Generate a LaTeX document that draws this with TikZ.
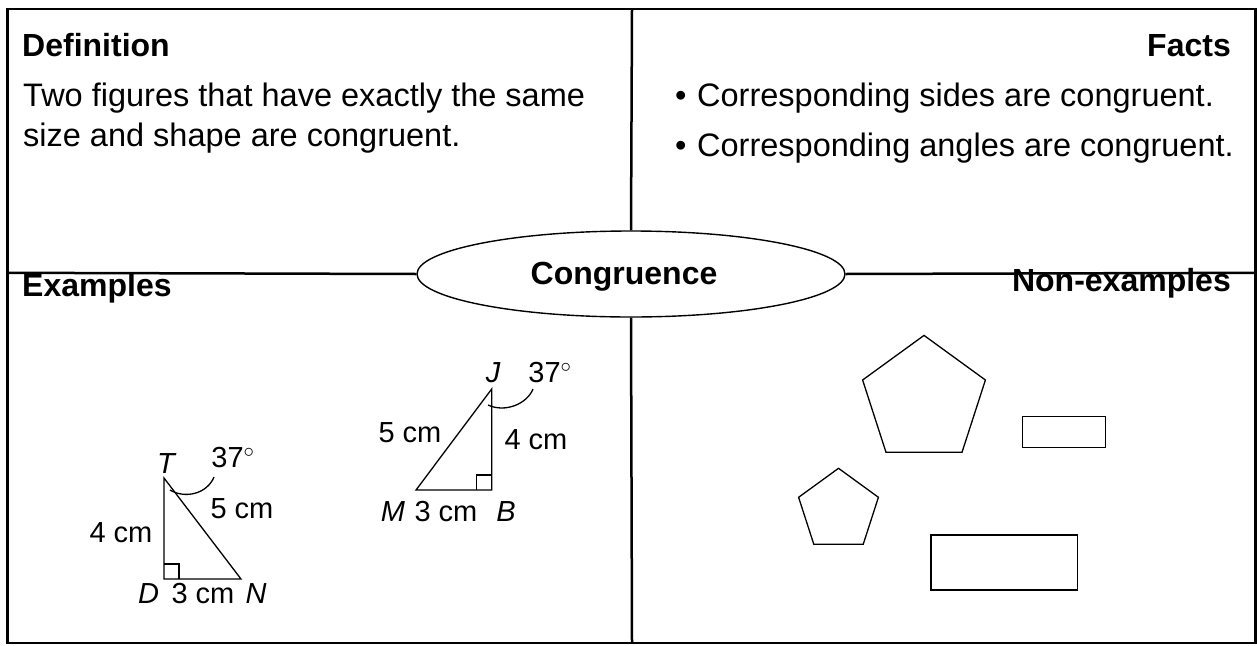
\documentclass[tikz,border=0pt]{standalone}
\usepackage{fontspec}
\setmainfont{Liberation Sans}
\usetikzlibrary{shapes.geometric}
\begin{document}
\begin{tikzpicture}[x=1pt,y=-1pt,
  frame/.style={line width=2.5pt},
  thinline/.style={line width=1.3pt},
  head/.style={font=\fontsize{32}{38}\selectfont\bfseries, inner sep=0pt},
  body/.style={font=\fontsize{32.5}{38}\selectfont, inner sep=0pt},
  lab/.style={font=\fontsize{29}{34}\selectfont, inner sep=0pt, anchor=base},
  vlab/.style={font=\fontsize{29}{34}\selectfont\itshape, inner sep=0pt, anchor=base},
]
\useasboundingbox (0,0) rectangle (1257,645);
% frame
\draw[frame] (7.7,9) rectangle (1255.5,643);
\coordinate (top) at (632,9);
\coordinate (bot) at (632,643);
\coordinate (lft) at (7.7,272.8);
\coordinate (rgt) at (1255.5,272.8);
\node[draw, ellipse, line width=1.4pt, fill=white, minimum width=428pt, minimum height=86pt, inner sep=0pt] (c) at (631,274) {};
\draw[frame] (top) -- (c.north);
\draw[frame] (c.south) -- (bot);
\draw[frame] (lft) -- (c.west);
\draw[frame] (c.east) -- (rgt);
\node[head, anchor=base] (cong) at (624,284) {Congruence};
% headings
\node[head, anchor=base west] (def) at (22,56) {Definition};
\node[head, anchor=base east] (facts) at (1231,56) {Facts};
\node[head, anchor=base west] (ex) at (22,296) {Examples};
\node[head, anchor=base east] (nex) at (1231,291) {Non-examples};
% definition text
\node[body, anchor=base west] (d1) at (23,106) {Two figures that have exactly the same};
\node[body, anchor=base west] (d2) at (23,146) {size and shape are congruent.};
% facts
\node[body, anchor=base west] (b1) at (675,106) {•};
\node[body, anchor=base west] (f1) at (697,106) {Corresponding sides are congruent.};
\node[body, anchor=base west] (b2) at (675,156) {•};
\node[body, anchor=base west] (f2) at (697,156) {Corresponding angles are congruent.};
% triangle TDN
\coordinate (T) at (164,478);
\coordinate (D) at (164,579);
\coordinate (N) at (241,579);
\draw[thinline] (T) -- (D) -- (N) -- cycle;
\draw[thinline] (164,564) -- (179,564) -- (179,579);
\draw[thinline] (170,490) .. controls (185,499) and (207,494) .. (214,477);
\node[vlab] (lT) at (166,473) {T};
\node[lab] (a1) at (233,467) {37$^\circ$};
\node[lab] (h1) at (242,518) {5 cm};
\node[lab] (s1) at (121,542) {4 cm};
\node[vlab] (lD) at (148.5,603) {D};
\node[lab] (b1l) at (203,603) {3 cm};
\node[vlab] (lN) at (256,603) {N};
% triangle JBM
\coordinate (J) at (491.7,389);
\coordinate (B) at (491.7,490);
\coordinate (M) at (416,490);
\draw[thinline] (J) -- (B) -- (M) -- cycle;
\draw[thinline] (476.7,490) -- (476.7,475) -- (491.7,475);
\draw[thinline] (488,405) .. controls (505,413) and (527,404) .. (533,389);
\node[vlab] (lJ) at (493,382) {J};
\node[lab] (a2) at (550,382) {37$^\circ$};
\node[lab] (h2) at (410,442) {5 cm};
\node[lab] (s2) at (536,449) {4 cm};
\node[vlab] (lM) at (393,521) {M};
\node[lab] (b2l) at (446,521) {3 cm};
\node[vlab] (lB) at (506,521) {B};
% non-examples
\draw[thinline] (924,335.4) -- (985.4,380.0) -- (962.0,452.3) -- (886.0,452.3) -- (862.6,380.0) -- cycle;
\draw[thinline] (838.5,468.3) -- (878.4,497.3) -- (863.2,544.3) -- (813.8,544.3) -- (798.6,497.3) -- cycle;
\draw[thinline] (1022.7,416.7) rectangle (1105.3,447.3);
\draw[thinline] (931,535) rectangle (1077.3,590);
\end{tikzpicture}
\end{document}
